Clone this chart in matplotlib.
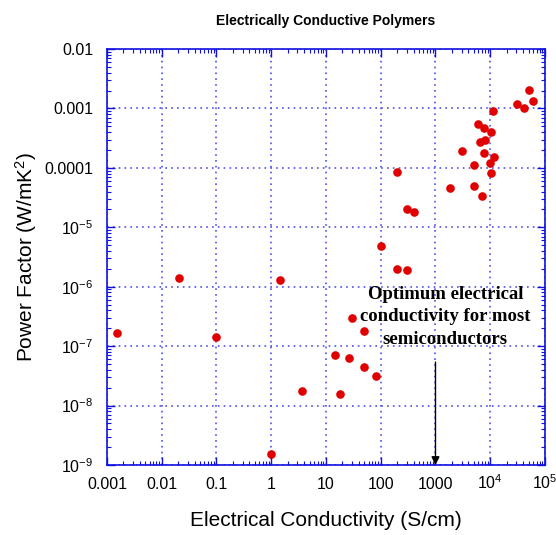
import numpy as np
import matplotlib
matplotlib.use("Agg")
import matplotlib.pyplot as plt
from matplotlib import ticker

# Data (conductivity S/cm, power factor W/mK^2)
conductivity = [0.0015, 0.0207, 0.1, 1.46, 1.0, 3.67, 14.9, 18.4, 26.2, 30.1,
                50, 50, 83, 101, 200, 305,
                200, 301, 405,
                1810, 5060, 7080, 3050, 5060, 9780, 10350, 7590, 11750,
                6600, 8130, 6050, 7580, 10200, 11250,
                30900, 40800, 51200, 60500]
power_factor = [1.67e-7, 1.40e-6, 1.4e-7, 1.28e-6, 1.56e-9, 1.75e-8, 7.2e-8, 1.57e-8, 6.35e-8, 2.96e-7,
                1.81e-7, 4.5e-8, 3.16e-8, 4.8e-6, 2.0e-6, 1.88e-6,
                8.6e-5, 2.0e-5, 1.83e-5,
                4.6e-5, 5.0e-5, 3.4e-5, 1.94e-4, 1.1e-4, 1.22e-4, 8.3e-5, 1.8e-4, 1.52e-4,
                2.72e-4, 2.9e-4, 5.5e-4, 4.7e-4, 4.05e-4, 9.2e-4,
                1.2e-3, 1.02e-3, 2.04e-3, 1.33e-3]

x_ticks = [1e-3, 1e-2, 1e-1, 1, 10, 100, 1000, 1e4, 1e5]
x_ticklabels = ["0.001", "0.01", "0.1", "1", "10", "100", "1000", r"$10^4$", r"$10^5$"]
y_ticks = [1e-9, 1e-8, 1e-7, 1e-6, 1e-5, 1e-4, 1e-3, 1e-2]
y_ticklabels = [r"$10^{-9}$", r"$10^{-8}$", r"$10^{-7}$", r"$10^{-6}$", r"$10^{-5}$",
                "0.0001", "0.001", "0.01"]

plt.rcParams['font.family'] = ['Liberation Sans', 'DejaVu Sans']
plt.rcParams['mathtext.fontset'] = 'custom'
plt.rcParams['mathtext.rm'] = 'Liberation Sans'
plt.rcParams['mathtext.it'] = 'Liberation Sans:italic'
plt.rcParams['mathtext.default'] = 'regular'

blue = '#1010e0'
fig = plt.figure(figsize=(5.56, 5.35), dpi=100)
ax = fig.add_axes([0.1924, 0.1308, 0.7878, 0.7776])

ax.set_xscale('log')
ax.set_yscale('log')
ax.set_xlim(1e-3, 1e5)
ax.set_ylim(1e-9, 1e-2)

ax.plot(conductivity, power_factor, ls='', marker='o', markersize=6.2,
        color='#e00000', markeredgewidth=0, zorder=3)

ax.set_xticks(x_ticks)
ax.set_xticklabels(x_ticklabels, va='baseline')
ax.set_yticks(y_ticks)
ax.set_yticklabels(y_ticklabels)
ax.xaxis.set_minor_locator(ticker.LogLocator(base=10, subs=np.arange(2, 10), numticks=20))
ax.yaxis.set_minor_locator(ticker.LogLocator(base=10, subs=np.arange(2, 10), numticks=20))
ax.xaxis.set_minor_formatter(ticker.NullFormatter())
ax.yaxis.set_minor_formatter(ticker.NullFormatter())

ax.tick_params(which='major', direction='in', length=6, width=1, color=blue,
               top=True, right=True, labelsize=11.5)
ax.tick_params(axis='x', which='major', pad=17)
ax.tick_params(axis='y', which='major', pad=10)
ax.tick_params(which='minor', direction='in', length=3, width=0.8, color=blue,
               top=True, right=True)
for sp in ax.spines.values():
    sp.set_color(blue)
    sp.set_linewidth(1.2)

ax.grid(True, which='major', color='#5050f0', ls=(0, (1, 2.5)), lw=1.2)

ax.set_xlabel("Electrical Conductivity (S/cm)", fontsize=15, labelpad=14)
ax.set_ylabel(r"Power Factor (W/mK$^2$)", fontsize=15, labelpad=4)
ax.set_title("Electrically Conductive Polymers", fontsize=10, fontweight='bold', pad=17)

ax.text(1510, 3.1e-7, "Optimum electrical\nconductivity for most\nsemiconductors",
        ha='center', va='center', family='Liberation Serif', fontweight='bold',
        fontsize=13.5, linespacing=1.45, zorder=4)
ax.annotate("", xy=(1000, 1e-9), xytext=(1000, 5.4e-8),
            arrowprops=dict(arrowstyle='-|>', color='black', lw=1.0,
                            mutation_scale=12, shrinkA=0, shrinkB=0))

fig.savefig("out.png", dpi=100)
